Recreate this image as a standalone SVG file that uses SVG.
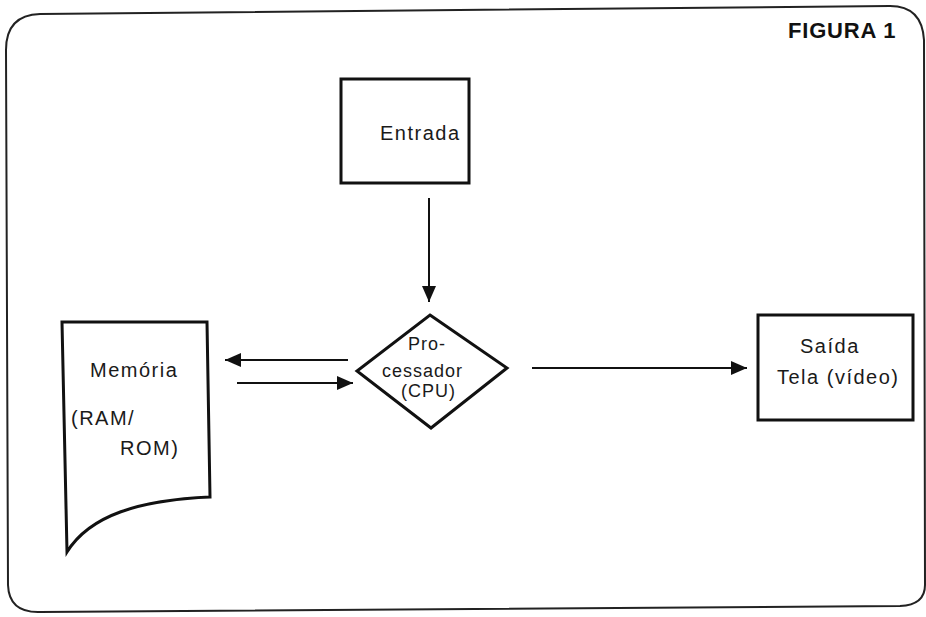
<svg xmlns="http://www.w3.org/2000/svg" width="926" height="617" viewBox="0 0 926 617">
<defs>
<marker id="ah" viewBox="0 0 16 14" refX="16" refY="7" markerWidth="16" markerHeight="14" markerUnits="userSpaceOnUse" orient="auto">
<path d="M0,0 L16,7 L0,14 Z" fill="#111"/>
</marker>
<style>
.shape{fill:#fff;stroke:#111;stroke-width:3;stroke-linejoin:miter}
.frame{fill:none;stroke:#222;stroke-width:2}
.conn{stroke:#111;stroke-width:2;fill:none}
.t{font-family:"Liberation Sans",Arial,sans-serif;font-size:20px;fill:#1a1a1a;letter-spacing:1.5px}
.d{font-size:18px;letter-spacing:1px}
.title{font-family:"Liberation Sans",Arial,sans-serif;font-size:22px;font-weight:bold;fill:#111;letter-spacing:0.8px}
</style>
</defs>
<rect width="926" height="617" fill="#fff"/>
<path class="frame" d="M40,14 L890,6 Q922,6 924,40 L925,585 Q925,605 900,606 L40,612 Q9,613 8,585 L6,50 Q6,15 40,14 Z"/>
<text class="title" x="788" y="38">FIGURA 1</text>
<g id="entrada">
<rect class="shape" x="341" y="79" width="128" height="104"/>
<text class="t" x="380" y="140" font-size="21">Entrada</text>
</g>
<g id="processador">
<path class="shape" d="M430,315 L507,368 L431,428 L357,371 Z"/>
<text class="t d" x="408" y="350">Pro-</text>
<text class="t d" x="382" y="377">cessador</text>
<text class="t d" x="401" y="397" letter-spacing="2">(CPU)</text>
</g>
<g id="memoria">
<path class="shape" d="M62,322 L207,322 L210,497 C140,500 90,515 67,552 Z"/>
<text class="t" x="90" y="377">Memória</text>
<text class="t" x="71" y="425">(RAM/</text>
<text class="t" x="120" y="455">ROM)</text>
</g>
<g id="saida">
<rect class="shape" x="758" y="315" width="155" height="105"/>
<text class="t" x="800" y="353">Saída</text>
<text class="t" x="777" y="384">Tela (vídeo)</text>
</g>
<g id="connectors">
<line class="conn" x1="429" y1="198" x2="429" y2="302" marker-end="url(#ah)"/>
<line class="conn" x1="348" y1="360" x2="225" y2="360" marker-end="url(#ah)"/>
<line class="conn" x1="237" y1="383" x2="353" y2="383" marker-end="url(#ah)"/>
<line class="conn" x1="532" y1="368" x2="747" y2="368" marker-end="url(#ah)"/>
</g>
</svg>
